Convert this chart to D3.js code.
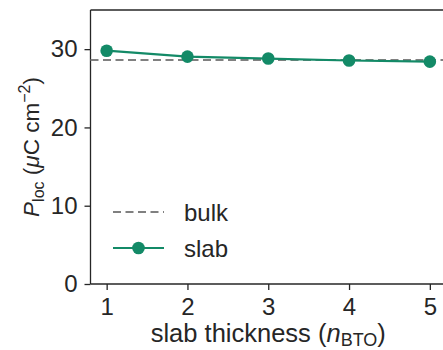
<!DOCTYPE html>
<html><head><meta charset="utf-8">
<script src="https://cdn.jsdelivr.net/npm/d3@7"></script>
<style>body{margin:0;background:#fff;} svg{display:block;font-family:"Liberation Sans",Arial,sans-serif;}</style>
</head><body>
<svg id="c" width="443" height="350"></svg>
<script>
const thickness = [1, 2, 3, 4, 5];
const slab = [29.8, 29.05, 28.8, 28.55, 28.4];
const bulk = 28.6;
const xTicks = [1, 2, 3, 4, 5];
const yTicks = [0, 10, 20, 30];

const svg = d3.select("#c");
const L = 90.5, T = 10, B = 284, R = 446;
const x = d3.scaleLinear().domain([0.8, 5.2]).range([L, R]);
const y = d3.scaleLinear().domain([0, 35]).range([B, T]);
const ink = "#262626", green = "#138a67", gray = "#808080";
const FS = "24px";

// spines
svg.append("line").attr("x1", L).attr("x2", R).attr("y1", T).attr("y2", T).attr("stroke", ink).attr("stroke-width", 1.3);
const xa = svg.append("g").attr("transform", `translate(0,${B})`)
  .call(d3.axisBottom(x).tickValues(xTicks).tickSize(6).tickPadding(8).tickFormat(d3.format("d")));
const ya = svg.append("g").attr("transform", `translate(${L},0)`)
  .call(d3.axisLeft(y).tickValues(yTicks).tickSize(6).tickPadding(7).tickFormat(d3.format("d")));
[xa, ya].forEach(a => {
  a.select(".domain").attr("stroke", ink).attr("stroke-width", 1.3);
  a.selectAll(".tick line").attr("stroke", ink).attr("stroke-width", 1.3);
  a.selectAll(".tick text").attr("fill", ink).style("font-size", FS).style("font-family", "Liberation Sans, Arial, sans-serif");
});
xa.select(".domain").attr("d", `M${L},0H${R}`);
ya.select(".domain").attr("d", `M0,${T}V${B}`);

// bulk dashed line
svg.append("line").attr("x1", L).attr("x2", R).attr("y1", y(bulk)).attr("y2", y(bulk))
  .attr("stroke", gray).attr("stroke-width", 2).attr("stroke-dasharray", "8,4.5");

// slab line
const line = d3.line().x((d, i) => x(thickness[i])).y(d => y(d));
svg.append("path").datum(slab).attr("d", line).attr("fill", "none").attr("stroke", green).attr("stroke-width", 2.2);
svg.selectAll("circle.pt").data(slab).join("circle").attr("class", "pt")
  .attr("cx", (d, i) => x(thickness[i])).attr("cy", d => y(d)).attr("r", 6.3).attr("fill", green);

// legend
const lg = svg.append("g");
lg.append("line").attr("x1", 113).attr("x2", 164).attr("y1", 212).attr("y2", 212)
  .attr("stroke", gray).attr("stroke-width", 2).attr("stroke-dasharray", "8,4.5");
lg.append("text").attr("x", 184).attr("y", 221).attr("fill", ink).style("font-size", FS).text("bulk");
lg.append("line").attr("x1", 113).attr("x2", 164).attr("y1", 248).attr("y2", 248)
  .attr("stroke", green).attr("stroke-width", 2.2);
lg.append("circle").attr("cx", 138.5).attr("cy", 248).attr("r", 6.3).attr("fill", green);
lg.append("text").attr("x", 184).attr("y", 257).attr("fill", ink).style("font-size", FS).text("slab");

// x label
const xl = svg.append("text").attr("x", (L + R) / 2).attr("y", 342).attr("text-anchor", "middle")
  .attr("fill", ink).style("font-size", "25.5px");
xl.append("tspan").text("slab thickness (");
xl.append("tspan").style("font-style", "italic").text("n");
xl.append("tspan").attr("dy", 4).style("font-size", "18px").text("BTO");
xl.append("tspan").attr("dy", -4).text(")");

// y label
const yl = svg.append("text").attr("transform", `translate(39,147) rotate(-90)`)
  .attr("text-anchor", "middle").attr("fill", ink).style("font-size", "22.5px");
yl.append("tspan").style("font-style", "italic").text("P");
yl.append("tspan").attr("dy", 5).style("font-size", "16px").text("loc");
yl.append("tspan").attr("dy", -5).text(" (");
yl.append("tspan").style("font-style", "italic").text("μ");
yl.append("tspan").text("C cm");
yl.append("tspan").attr("dy", -9).style("font-size", "16px").text("−2");
yl.append("tspan").attr("dy", 9).text(")");
</script>
</body></html>
